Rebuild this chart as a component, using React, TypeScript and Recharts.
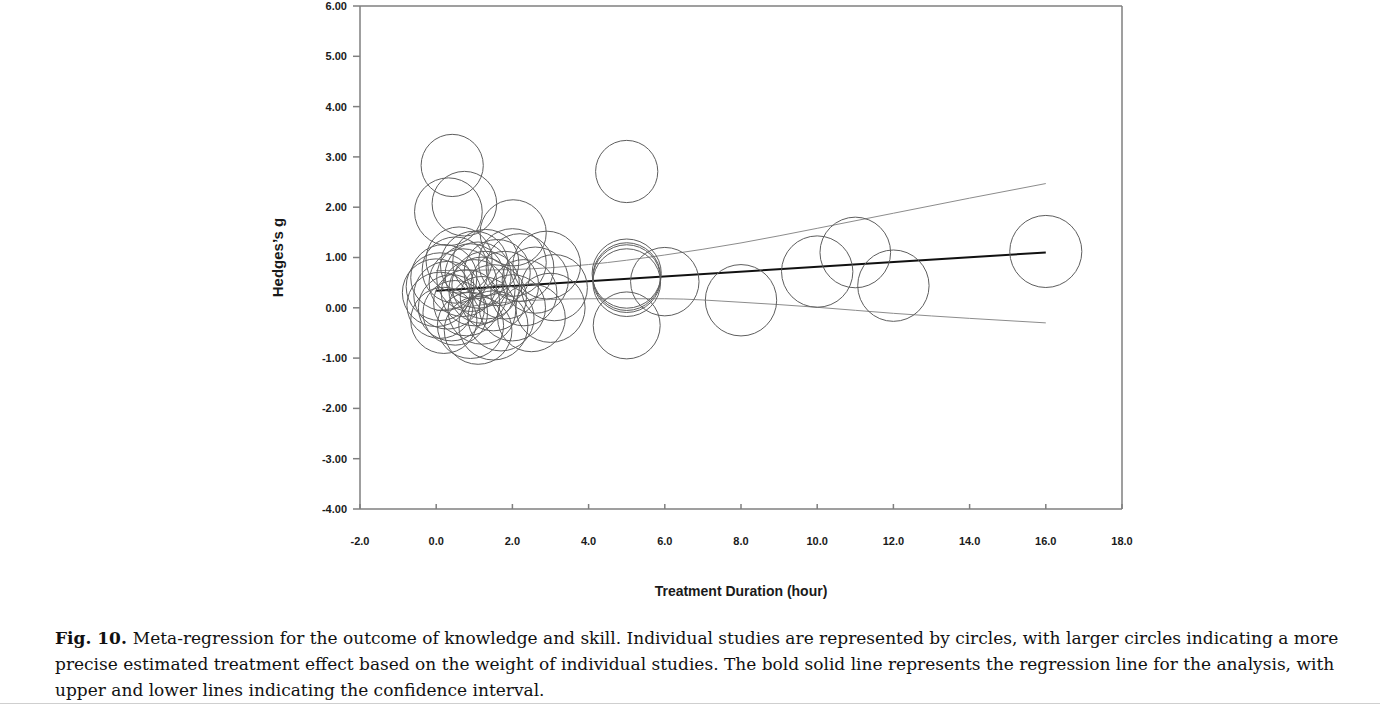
import React from 'react';
import { ComposedChart, XAxis, YAxis, ZAxis, Scatter, Line, ReferenceLine, Label } from 'recharts';

// individual studies: duration (hour), Hedges's g, relative weight
const studyHours = [
  0.42, 0.32, 0.74, 2.02, 0.1, 0.1, 0.2, 0.3, 0.5, 0.5, 0.6, 0.7, 0.8, 0.9, 1.0, 1.0,
  1.1, 1.2, 1.3, 1.3, 1.5, 1.5, 1.6, 1.7, 1.8, 2.0, 2.2, 2.3, 2.5, 2.9, 3.0, 3.1,
  0.0, 0.2, 0.4, 0.9, 1.2, 1.1, 2.6, 2.0,
  5.0, 5.0, 5.0, 5.0, 5.0, 5.0, 6.0, 8.0, 10.0, 11.0, 12.0, 16.0,
];
const studyEffects = [
  2.83, 1.91, 2.07, 1.49, 0.42, 0.05, -0.25, 0.25, 0.75, -0.1, 0.95, 0.5, 0.1, -0.35, 0.85, 0.3,
  0.65, -0.05, 0.9, 0.45, -0.35, 0.2, 0.7, -0.2, 0.45, 0.0, 0.8, 0.3, -0.2, 0.85, 0.0, 0.4,
  0.3, 0.6, 0.0, 0.6, 0.35, -0.45, 0.55, 0.9,
  2.71, 0.68, 0.62, 0.58, 0.5, -0.35, 0.52, 0.15, 0.72, 1.1, 0.44, 1.12,
];
const studyWeights = [
  1.5, 5, 3, 4, 5, 4, 4, 5, 4, 3, 4, 5, 4, 4, 5, 4,
  4, 5, 4, 5, 6, 4, 4, 4, 5, 4, 5, 4, 5, 5, 6, 4,
  5, 4, 4, 5, 4, 5, 4, 5,
  1.5, 6, 5, 5, 5, 4.5, 5.5, 7.5, 7.5, 7, 7.5, 8,
];

// regression line and confidence interval
const regHours = [0, 16];
const regEffects = [0.34, 1.1];
const ciHours = [0, 2, 4, 6, 8, 10, 12, 14, 16];
const ciUpper = [0.74, 0.76, 0.86, 1.05, 1.29, 1.58, 1.88, 2.18, 2.47];
const ciLower = [-0.06, 0.12, 0.18, 0.18, 0.11, 0.01, -0.11, -0.21, -0.3];

const xTicks = [-2, 0, 2, 4, 6, 8, 10, 12, 14, 16, 18];
const yTicks = [-4, -3, -2, -1, 0, 1, 2, 3, 4, 5, 6];

const captionLines = [
  'Meta-regression for the outcome of knowledge and skill. Individual studies are represented by circles, with larger circles indicating a more',
  'precise estimated treatment effect based on the weight of individual studies. The bold solid line represents the regression line for the analysis, with',
  'upper and lower lines indicating the confidence interval.',
];

const studies = studyHours.map((x, i) => ({ x, y: studyEffects[i], w: studyWeights[i] }));
const regression = regHours.map((x, i) => ({ x, y: regEffects[i] }));
const upper = ciHours.map((x, i) => ({ x, y: ciUpper[i] }));
const lower = ciHours.map((x, i) => ({ x, y: ciLower[i] }));

const axisColor = '#7f7f7f';
const tickStyle = { fontFamily: 'Liberation Sans, Arial, sans-serif', fontSize: 11, fontWeight: 700, fill: '#1a1a1a' };

export default function App() {
  return (
    <div style={{ position: 'absolute', left: 0, top: 0, width: 1380, height: 705, background: '#fff', overflow: 'hidden' }}>
      <ComposedChart width={1380} height={620} margin={{ top: 6, right: 258, left: 260, bottom: 11 }}>
        <XAxis
          type="number"
          dataKey="x"
          domain={[-2, 18]}
          ticks={xTicks}
          tickFormatter={(v: number) => v.toFixed(1)}
          allowDataOverflow
          height={100}
          stroke={axisColor}
          strokeWidth={1.5}
          tickSize={-5}
          tickMargin={33}
          tick={tickStyle}
        >
          <Label
            value="Treatment Duration (hour)"
            position="center"
            dy={32}
            style={{ fontFamily: 'Liberation Sans, Arial, sans-serif', fontSize: 14, fontWeight: 700, fill: '#1a1a1a' }}
          />
        </XAxis>
        <YAxis
          type="number"
          dataKey="y"
          domain={[-4, 6]}
          ticks={yTicks}
          tickFormatter={(v: number) => v.toFixed(2)}
          allowDataOverflow
          width={100}
          stroke={axisColor}
          strokeWidth={1.5}
          tickSize={7}
          tickMargin={6}
          tick={tickStyle}
        >
          <Label
            value="Hedges’s g"
            angle={-90}
            position="center"
            dx={-32}
            style={{ fontFamily: 'Liberation Sans, Arial, sans-serif', fontSize: 15, fontWeight: 700, fill: '#1a1a1a', textAnchor: 'middle' }}
          />
        </YAxis>
        <ZAxis type="number" dataKey="w" domain={[0, 10]} range={[2800, 4400]} />
        <ReferenceLine y={6} stroke={axisColor} strokeWidth={1.5} />
        <ReferenceLine x={18} stroke={axisColor} strokeWidth={1.5} />
        <Scatter data={studies} fill="none" stroke="#5e5e5e" strokeWidth={1} isAnimationActive={false} />
        <Line data={upper} dataKey="y" type="monotone" dot={false} stroke="#8c8c8c" strokeWidth={1} isAnimationActive={false} />
        <Line data={lower} dataKey="y" type="monotone" dot={false} stroke="#8c8c8c" strokeWidth={1} isAnimationActive={false} />
        <Line data={regression} dataKey="y" type="linear" dot={false} stroke="#111" strokeWidth={2} isAnimationActive={false} />
      </ComposedChart>
      <div
        style={{
          position: 'absolute',
          left: 55,
          top: 625,
          fontFamily: 'DejaVu Serif, Liberation Serif, serif',
          fontSize: 17,
          lineHeight: '26px',
          color: '#111',
          whiteSpace: 'nowrap',
        }}
      >
        {captionLines.map((line, i) => (
          <div key={i}>
            {i === 0 && <b>Fig. 10.&nbsp;</b>}
            {line}
          </div>
        ))}
      </div>
      <div style={{ position: 'absolute', left: 0, top: 703, width: 1380, height: 1, background: '#cfcfcf' }} />
    </div>
  );
}
